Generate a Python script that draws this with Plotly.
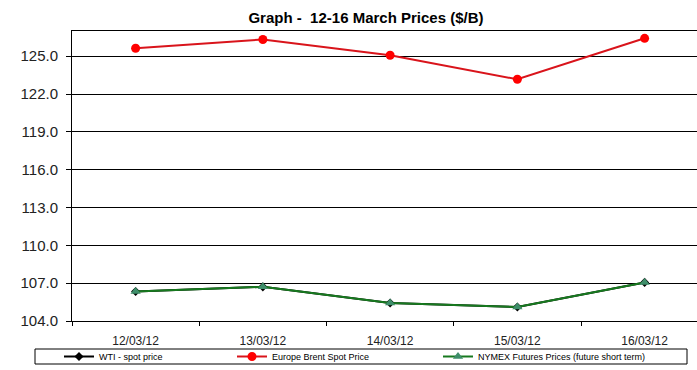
import plotly.graph_objects as go

dates = ["12/03/12", "13/03/12", "14/03/12", "15/03/12", "16/03/12"]
wti_spot = [106.34, 106.71, 105.43, 105.11, 107.06]
brent_spot = [125.63, 126.33, 125.08, 123.17, 126.42]
nymex_futures = [106.34, 106.71, 105.43, 105.11, 107.06]
y_ticks = [104, 107, 110, 113, 116, 119, 122, 125]

W, H = 697, 370
L, R, T, B = 72, 0, 31, 49
plot_w = W - L - R
plot_h = H - T - B
px_per_cat = 127.25

def px_x(x):
    return (x - L) / plot_w

def px_y(y):
    return (T + plot_h - y) / plot_h

fig = go.Figure()
fig.add_trace(go.Scatter(
    x=dates, y=wti_spot, name="WTI - spot price", mode="lines+markers",
    line=dict(color="black", width=2),
    marker=dict(symbol="diamond", size=7, color="black"),
    legend="legend",
))
fig.add_trace(go.Scatter(
    x=dates, y=brent_spot, name="Europe Brent Spot Price", mode="lines+markers",
    line=dict(color="#D9141B", width=2),
    marker=dict(symbol="circle", size=9, color="#FF0000"),
    legend="legend2",
))
fig.add_trace(go.Scatter(
    x=dates, y=nymex_futures, name="NYMEX Futures Prices (future short term)",
    mode="lines+markers",
    line=dict(color="#17791F", width=2),
    marker=dict(symbol="triangle-up", size=9, color="#3E8E6A"),
    legend="legend3",
))

fig.add_shape(type="rect", xref="paper", yref="paper",
              x0=px_x(35), x1=px_x(687), y0=px_y(349), y1=px_y(364),
              line=dict(color="black", width=1), fillcolor="rgba(0,0,0,0)")

def leg(xpix):
    return dict(
        orientation="h", x=px_x(xpix), xanchor="left",
        y=px_y(356.5), yanchor="middle",
        borderwidth=0, bgcolor="rgba(0,0,0,0)",
        font=dict(size=9, color="black", family="Arial, Liberation Sans, sans-serif"),
        itemwidth=30,
    )

fig.update_layout(
    width=W, height=H,
    margin=dict(l=L, r=R, t=T, b=B, pad=0, autoexpand=False),
    paper_bgcolor="white", plot_bgcolor="white",
    font=dict(family="Arial, Liberation Sans, sans-serif", color="black"),
    title=dict(
        text="<b>Graph -  12-16 March Prices ($/B)</b>",
        x=366 / W, xanchor="center", xref="container", y=1 - 18 / H, yanchor="middle",
        font=dict(size=15, family="Arial, Liberation Sans, sans-serif"),
    ),
    xaxis=dict(
        type="category", categoryorder="array", categoryarray=dates,
        range=[-0.5, -0.5 + plot_w / px_per_cat],
        showgrid=False, showline=True, linecolor="black", linewidth=1, mirror=True,
        ticks="outside", tickson="boundaries", ticklen=4, tickcolor="black",
        tickfont=dict(size=12, color="#222"), ticklabelstandoff=9,
        zeroline=False, automargin=False,
    ),
    yaxis=dict(
        range=[104, 127], tickvals=y_ticks, tickformat=".1f",
        showgrid=True, gridcolor="black", gridwidth=1,
        showline=True, linecolor="black", linewidth=1,
        ticks="outside", ticklen=5, tickcolor="black",
        tickfont=dict(size=15, color="#222"), ticklabelstandoff=5,
        zeroline=False, automargin=False,
    ),
    legend=leg(59),
    legend2=leg(232),
    legend3=leg(438),
    showlegend=True,
)

fig.write_html(
    "out.html",
    config={"displayModeBar": False},
    post_script="document.body.style.margin='0';document.body.style.overflow='hidden';",
)
